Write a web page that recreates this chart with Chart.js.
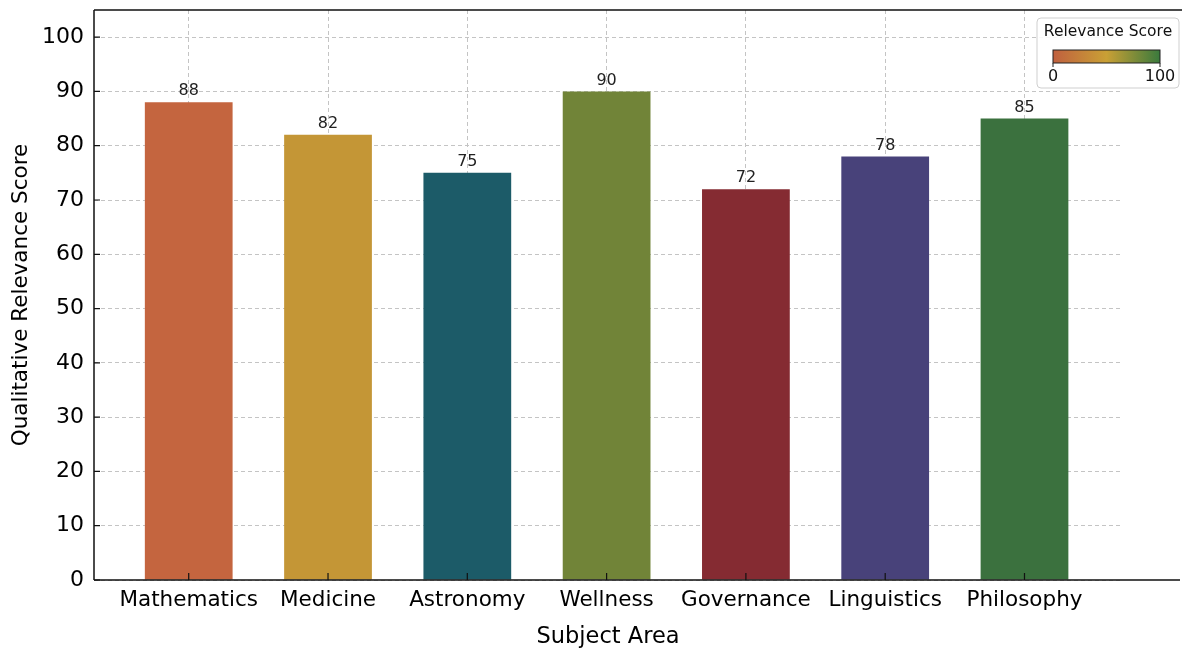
<!DOCTYPE html>
<html lang="en">
<head>
<meta charset="UTF-8">
<title>Qualitative Relevance Score by Subject Area</title>
<script src="https://cdn.jsdelivr.net/npm/chart.js"></script>
<style>
  body { margin: 0; background: #fff; }
  #holder { width: 1182px; height: 651px; }
</style>
</head>
<body>
<div id="holder"><canvas id="chart" width="1182" height="651"></canvas></div>
<script>
// data
const subjects = ['Mathematics', 'Medicine', 'Astronomy', 'Wellness', 'Governance', 'Linguistics', 'Philosophy'];
const scores = [88, 82, 75, 90, 72, 78, 85];
const barColors = ['#C4653F', '#C49636', '#1C5B68', '#718438', '#852B32', '#48427A', '#3B713E'];
const yTicks = [0, 10, 20, 30, 40, 50, 60, 70, 80, 90, 100];
const legendTicks = [0, 100];

const FONT = 'DejaVu Sans';
const gridColor = '#c4c4c4';

// spines, inward ticks, value labels and the colour-bar legend
const decorations = {
  id: 'decorations',
  afterDraw(chart) {
    const ctx = chart.ctx;
    const a = chart.chartArea;
    const xs = chart.scales.x, ys = chart.scales.y;
    const W = chart.width;
    ctx.save();
    ctx.strokeStyle = '#111';
    ctx.lineWidth = 1.5;
    ctx.beginPath();
    ctx.moveTo(a.left, a.top); ctx.lineTo(W, a.top);
    ctx.moveTo(a.left, a.top); ctx.lineTo(a.left, a.bottom);
    ctx.moveTo(a.left, a.bottom); ctx.lineTo(W - 2, a.bottom);
    ctx.stroke();

    // inward ticks
    ctx.lineWidth = 1.2;
    ctx.beginPath();
    yTicks.forEach(v => {
      const y = ys.getPixelForValue(v);
      ctx.moveTo(a.left, y); ctx.lineTo(a.left + 6, y);
    });
    subjects.forEach((s, i) => {
      const x = xs.getPixelForValue(i);
      ctx.moveTo(x, a.bottom); ctx.lineTo(x, a.bottom - 7);
    });
    ctx.stroke();

    // value labels
    ctx.fillStyle = '#222';
    ctx.font = '16px "' + FONT + '"';
    ctx.textAlign = 'center';
    ctx.textBaseline = 'bottom';
    scores.forEach((v, i) => {
      ctx.fillText(String(v), xs.getPixelForValue(i), ys.getPixelForValue(v) - 3);
    });

    // colour bar legend
    const bx = 1037, by = 18, bw = 142, bh = 70;
    ctx.beginPath();
    ctx.roundRect(bx, by, bw, bh, 4);
    ctx.fillStyle = 'rgba(255,255,255,0.9)';
    ctx.fill();
    ctx.strokeStyle = '#cfcfcf';
    ctx.lineWidth = 1;
    ctx.stroke();

    ctx.fillStyle = '#111';
    ctx.font = '15.5px "' + FONT + '"';
    ctx.textBaseline = 'middle';
    ctx.fillText('Relevance Score', bx + bw / 2, by + 14);

    const gx = 1053, gy = 50, gw = 107, gh = 13;
    const grad = ctx.createLinearGradient(gx, 0, gx + gw, 0);
    grad.addColorStop(0, '#C0603F');
    grad.addColorStop(0.5, '#C9A035');
    grad.addColorStop(1, '#3A7A3D');
    ctx.fillStyle = grad;
    ctx.fillRect(gx, gy, gw, gh);
    ctx.strokeStyle = '#222';
    ctx.lineWidth = 1;
    ctx.strokeRect(gx, gy, gw, gh);

    ctx.fillStyle = '#111';
    ctx.font = '16px "' + FONT + '"';
    legendTicks.forEach(t => {
      const x = gx + gw * t / 100;
      ctx.beginPath();
      ctx.moveTo(x, gy + gh); ctx.lineTo(x, gy + gh + 4);
      ctx.stroke();
      ctx.fillText(String(t), x, gy + gh + 14);
    });
    ctx.restore();
  }
};

new Chart(document.getElementById('chart'), {
  type: 'bar',
  data: {
    datasets: [{
      data: scores.map((v, i) => ({ x: i, y: v })),
      backgroundColor: barColors,
      borderWidth: 0,
      barPercentage: 0.63,
      categoryPercentage: 1
    }]
  },
  options: {
    responsive: false,
    animation: false,
    layout: { padding: { top: 10, right: 60, left: 0, bottom: 0 } },
    plugins: { legend: { display: false }, tooltip: { enabled: false } },
    scales: {
      x: {
        type: 'linear',
        offset: false,
        min: -0.68,
        max: 6.7,
        afterBuildTicks: s => { s.ticks = subjects.map((c, i) => ({ value: i })); },
        afterFit: s => { s.height = 71; s.paddingLeft = 0; s.paddingRight = 0; },
        ticks: {
          autoSkip: false,
          maxRotation: 0,
          padding: 8,
          color: '#000',
          font: { family: FONT, size: 21.5 },
          callback: v => subjects[v]
        },
        grid: { color: gridColor, offset: false, drawTicks: false, lineWidth: 1 },
        border: { display: false, dash: [4, 3] },
        title: {
          display: true,
          text: 'Subject Area',
          color: '#000',
          font: { family: FONT, size: 22.5 },
          padding: { top: 1, bottom: 0 }
        }
      },
      y: {
        min: 0,
        max: 105,
        afterBuildTicks: s => { s.ticks = yTicks.map(v => ({ value: v })); },
        afterFit: s => { s.width = 94; s.paddingTop = 0; s.paddingBottom = 0; },
        ticks: {
          padding: 10,
          color: '#000',
          font: { family: FONT, size: 22 }
        },
        grid: { color: gridColor, drawTicks: false, lineWidth: 1 },
        border: { display: false, dash: [4, 3] },
        title: {
          display: true,
          text: 'Qualitative Relevance Score',
          color: '#000',
          font: { family: FONT, size: 21.5 },
          padding: { top: 9, bottom: 0 }
        }
      }
    }
  },
  plugins: [decorations]
});
</script>
</body>
</html>
